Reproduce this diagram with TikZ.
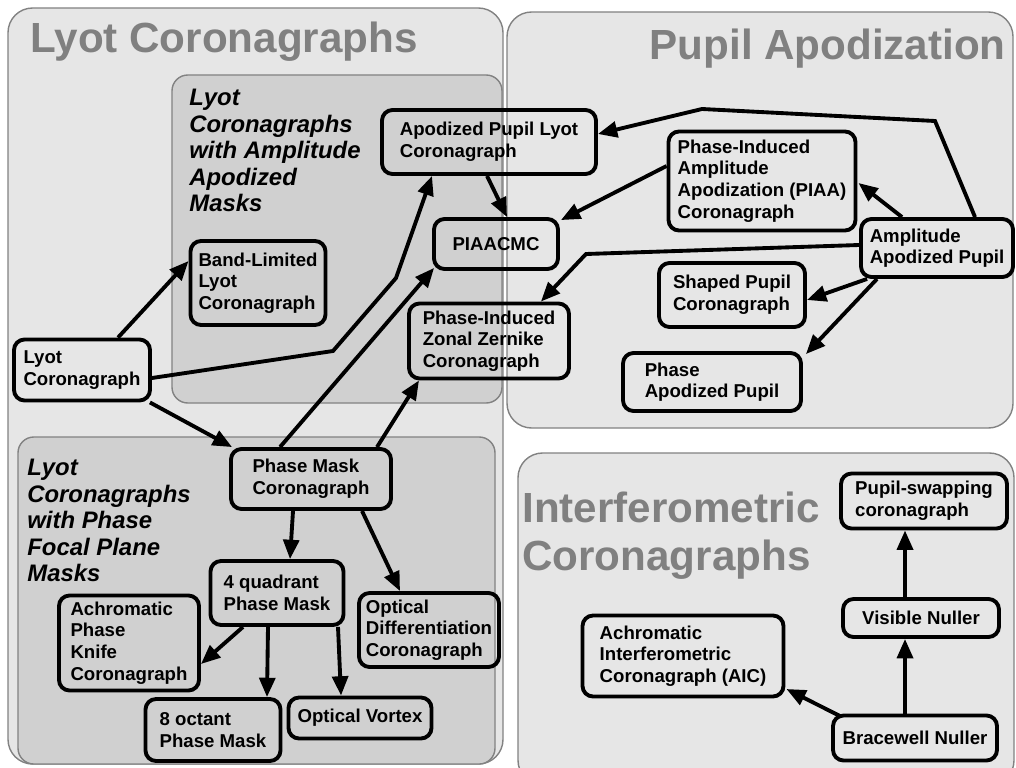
\documentclass[tikz,border=0pt]{standalone}
\usepackage{fontspec}
\setmainfont{Liberation Sans}
\usetikzlibrary{arrows.meta,calc}

\definecolor{panelgray}{RGB}{230,230,230}
\definecolor{subgray}{RGB}{208,208,208}
\definecolor{rimgray}{RGB}{130,130,130}
\definecolor{titlegray}{RGB}{128,128,128}

\tikzset{
  panel/.style={draw=rimgray, line width=0.8pt, fill=panelgray, rounded corners=14pt},
  subpanel/.style={draw=rimgray, line width=0.8pt, fill=subgray, rounded corners=9pt},
  bigtitle/.style={font=\fontsize{24}{28}\selectfont\bfseries, text=titlegray, inner sep=0pt},
  subtitle/.style={font=\fontsize{13.6}{15.1}\selectfont\bfseries\itshape, align=left, inner sep=0pt},
  box/.style={draw, line width=2.2pt, rounded corners=6pt, align=left, inner sep=0pt,
    font=\fontsize{10.6}{12.3}\selectfont\bfseries},
  sz/.style 2 args={minimum width=#1*0.02cm, minimum height=#2*0.02cm},
  arr/.style={line width=2.2pt, -{Triangle[length=11pt,width=9pt]}}
}

\begin{document}
\begin{tikzpicture}[x=0.02cm,y=-0.02cm]
  \useasboundingbox (0,0) rectangle (1016,767);
  \fill[white] (0,0) rectangle (1016,767);

  \draw[panel] (8,8) rectangle (503,764);
  \draw[panel] (507,12) rectangle (1013,428);
  \draw[panel] (518,453) rectangle (1014,785);
  \draw[subpanel] (172,75) rectangle (502,403);
  \draw[subpanel] (18,437) rectangle (495,764);

  \node[bigtitle, anchor=base west] (lyottitle) at (30,52) {Lyot Coronagraphs};
  \node[bigtitle, anchor=base east] (pupiltitle) at (1006,60) {Pupil Apodization};
  \node[bigtitle, anchor=base west] (interftitle) at (522,522) {Interferometric};
  \node[bigtitle, anchor=base west] (interftitleb) at (522,570) {Coronagraphs};
  \node[subtitle, anchor=north west] (ampnote) at (189,89) {Lyot\\Coronagraphs\\with Amplitude\\Apodized\\Masks};
  \node[subtitle, anchor=north west] (phasenote) at (27,459) {Lyot\\Coronagraphs\\with Phase\\Focal Plane\\Masks};

  \node[box, sz={214}{64}] (apl) at (489,142) {Apodized Pupil Lyot\\Coronagraph};
  \node[box, sz={124}{50}] (piaacmc) at (496,244) {PIAACMC};
  \node[box, sz={160}{75}] (pizz) at (489,341) {Phase-Induced\\Zonal Zernike\\Coronagraph};
  \node[box, sz={135}{84}] (bll) at (258,283) {Band-Limited\\Lyot\\Coronagraph};
  \node[box, sz={136}{61}] (lyot) at (82,370) {Lyot\\Coronagraph};
  \node[box, sz={187}{99}] (piaa) at (762,181) {Phase-Induced\\Amplitude\\Apodization (PIAA)\\Coronagraph};
  \node[box, sz={152}{58}] (aap) at (937,248) {Amplitude\\Apodized Pupil};
  \node[box, sz={146}{64}] (spc) at (732,295) {Shaped Pupil\\Coronagraph};
  \node[box, sz={178}{58}] (pap) at (712,382) {Phase\\Apodized Pupil};
  \node[box, sz={160}{60}] (pmc) at (311,479) {Phase Mask\\Coronagraph};
  \node[box, sz={133}{64}] (fqpm) at (277,593) {4 quadrant\\Phase Mask};
  \node[box, sz={140}{95}] (apkc) at (129,643) {Achromatic\\Phase\\Knife\\Coronagraph};
  \node[box, sz={140}{74}] (odc) at (429,630) {Optical\\Differentiation\\Coronagraph};
  \node[box, sz={135}{62}] (eopm) at (213,730) {8 octant\\Phase Mask};
  \node[box, sz={143}{41}] (ov) at (360,718) {Optical Vortex};
  \node[box, sz={166}{55}] (psc) at (924,501) {Pupil-swapping\\coronagraph};
  \node[box, sz={156}{38}] (vn) at (921,618) {Visible Nuller};
  \node[box, sz={201}{81}] (aic) at (683,656) {Achromatic\\Interferometric\\Coronagraph (AIC)};
  \node[box, sz={164}{45}] (bn) at (915,738) {Bracewell Nuller};

  \draw[arr] ($(lyot.north)+(36,0)$) -- ($(bll.west)+(0,-22)$);
  \draw[arr] ($(lyot.east)+(0,8)$) -- (333,351) -- (396,278) -- ($(apl.south)+(-57,0)$);
  \draw[arr] ($(pmc.north)+(-31,0)$) -- ($(piaacmc.south west)+(2,-3)$);
  \draw[arr] ($(pmc.north)+(66,0)$) -- ($(pizz.south)+(-70,0)$);
  \draw[arr] ($(lyot.south east)+(-2,0)$) -- ($(pmc.north west)+(3,0)$);
  \draw[arr] ($(apl.south)+(-2,0)$) -- ($(piaacmc.north)+(11,0)$);
  \draw[arr] ($(piaa.west)+(0,-15)$) -- ($(piaacmc.north east)+(1,3)$);
  \draw[arr] ($(aap.north)+(38,0)$) -- (935,121) -- (702,109) -- ($(apl.east)+(0,-8)$);
  \draw[arr] ($(aap.north)+(-35,0)$) -- ($(piaa.east)+(1,2)$);
  \draw[arr] ($(aap.west)+(0,-3)$) -- (586,254) -- ($(pizz.north east)+(-30,0)$);
  \draw[arr] ($(aap.south west)+(8,0)$) -- ($(spc.east)+(0,5)$);
  \draw[arr] ($(aap.south)+(-60,0)$) -- ($(pap.north east)+(3,3)$);
  \draw[arr] ($(pmc.south)+(-18,0)$) -- ($(fqpm.north)+(13,0)$);
  \draw[arr] ($(pmc.south)+(51,0)$) -- ($(odc.north)+(-29,0)$);
  \draw[arr] ($(fqpm.south)+(-34,0)$) -- ($(apkc.east)+(0,21)$);
  \draw[arr] ($(fqpm.south)+(-9,0)$) -- ($(eopm.north)+(54,0)$);
  \draw[arr] ($(fqpm.south)+(61,0)$) -- ($(ov.north)+(-19,0)$);
  \draw[arr] ($(bn.north)+(-10,0)$) -- ($(vn.south)+(-16,0)$);
  \draw[arr] ($(vn.north)+(-16,0)$) -- ($(psc.south)+(-19,0)$);
  \draw[arr] ($(bn.north west)+(10,3)$) -- ($(aic.east)+(1,33)$);
\end{tikzpicture}
\end{document}
